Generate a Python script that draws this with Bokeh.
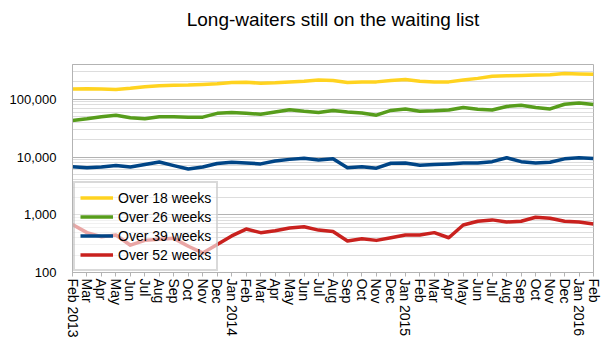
import math
from bokeh.plotting import figure
from bokeh.models import Range1d, FixedTicker, Legend, LegendItem, Title
from bokeh.embed import file_html
from bokeh.resources import INLINE

months = ["Feb 2013", "Mar", "Apr", "May", "Jun", "Jul", "Aug", "Sep", "Oct", "Nov", "Dec",
          "Jan 2014", "Feb", "Mar", "Apr", "May", "Jun", "Jul", "Aug", "Sep", "Oct", "Nov", "Dec",
          "Jan 2015", "Feb", "Mar", "Apr", "May", "Jun", "Jul", "Aug", "Sep", "Oct", "Nov", "Dec",
          "Jan 2016", "Feb"]

over_18 = [150000, 152000, 150000, 148000, 155000, 165000, 172000, 175000, 176000, 180000,
           185000, 195000, 197000, 190000, 193000, 200000, 205000, 215000, 212000, 195000,
           200000, 200000, 212000, 220000, 205000, 200000, 200000, 215000, 230000, 250000,
           255000, 258000, 262000, 265000, 280000, 275000, 272000]
over_26 = [43000, 46000, 50000, 53000, 48000, 46000, 50000, 50000, 49000, 49000,
           57000, 59000, 57000, 55000, 60000, 66000, 62000, 59000, 64000, 60000,
           58000, 53000, 64000, 68000, 62000, 63000, 65000, 72000, 67000, 65000,
           75000, 79000, 72000, 68000, 82000, 86000, 81000]
over_39 = [6800, 6500, 6700, 7100, 6700, 7400, 8200, 7100, 6200, 6700,
           7700, 8100, 7900, 7600, 8500, 9100, 9500, 8900, 9300, 6500,
           6800, 6400, 7800, 7900, 7200, 7400, 7600, 7900, 7900, 8300,
           9700, 8300, 7900, 8100, 9300, 9700, 9400]
over_52 = [675, 490, 417, 447, 297, 360, 375, 390, 285, 218,
           306, 430, 565, 490, 527, 588, 620, 542, 512, 351,
           385, 360, 400, 447, 447, 490, 400, 665, 770, 815,
           750, 770, 905, 870, 770, 750, 690]

series_names = ["Over 18 weeks", "Over 26 weeks", "Over 39 weeks", "Over 52 weeks"]
series_values = [over_18, over_26, over_39, over_52]
series_colors = ["#ffd320", "#579d1c", "#004586", "#c9211e"]

y_major = [100, 1000, 10000, 100000]
y_minor = [m * d for d in [100, 1000, 10000] for m in range(2, 10)] + [200000, 300000, 400000]

FONT = "Liberation Sans"
TITLE = "Long-waiters still on the waiting list"

x = list(range(len(months)))

p = figure(width=604, height=346, output_backend="svg", toolbar_location=None,
           y_axis_type="log", x_range=Range1d(0, len(months) - 1), y_range=Range1d(100, 400000),
           min_border_left=72, min_border_right=11, min_border_top=64, min_border_bottom=74,
           title=None)

# spacer between the frame and the title (nearest the frame), then the title above it
p.add_layout(Title(text=" ", text_font_size="1px", standoff=32), "above")
p.add_layout(Title(text=TITLE, text_font=FONT, text_font_size="19px", text_font_style="normal",
                   align="center", vertical_align="bottom", standoff=0, text_color="#000000"),
             "above")

p.outline_line_color = "#b3b3b3"
p.outline_line_width = 1

# grid
p.xgrid.grid_line_color = None
p.ygrid.ticker = FixedTicker(ticks=y_major, minor_ticks=y_minor)
p.ygrid.grid_line_color = "#b3b3b3"
p.ygrid.minor_grid_line_color = "#dddddd"

# y axis
p.yaxis.ticker = FixedTicker(ticks=y_major, minor_ticks=y_minor)
p.yaxis.major_label_overrides = {v: f"{v:,}" for v in y_major}
p.yaxis.major_tick_line_color = None
p.yaxis.minor_tick_line_color = None
p.yaxis.axis_line_color = "#b3b3b3"
p.yaxis.major_label_text_font = FONT
p.yaxis.major_label_text_font_size = "13px"
p.yaxis.major_label_text_color = "#000000"
p.yaxis.major_label_standoff = 10

# x axis
p.xaxis.ticker = FixedTicker(ticks=x)
p.xaxis.major_label_overrides = {i: m for i, m in enumerate(months)}
p.xaxis.major_label_orientation = -math.pi / 2
p.xaxis.major_tick_line_color = "#b3b3b3"
p.xaxis.major_tick_in = 0
p.xaxis.major_tick_out = 4
p.xaxis.minor_tick_line_color = None
p.xaxis.axis_line_color = "#b3b3b3"
p.xaxis.major_label_text_font = FONT
p.xaxis.major_label_text_font_size = "14px"
p.xaxis.major_label_text_color = "#000000"
p.xaxis.major_label_standoff = 2

items = []
for name, vals, col in zip(series_names, series_values, series_colors):
    r = p.line(x, vals, line_color=col, line_width=3.5, line_join="round")
    items.append(LegendItem(label=name, renderers=[r]))

legend = Legend(items=items, location="bottom_left", margin=1, padding=5,
                glyph_width=33, glyph_height=19, label_height=19, spacing=0,
                label_standoff=5, label_text_font=FONT, label_text_font_size="14px",
                label_text_color="#000000",
                border_line_color="#b3b3b3", border_line_width=2,
                background_fill_color="#ffffff", background_fill_alpha=0.6)
p.add_layout(legend)

open("out.html", "w").write(file_html(p, INLINE))
